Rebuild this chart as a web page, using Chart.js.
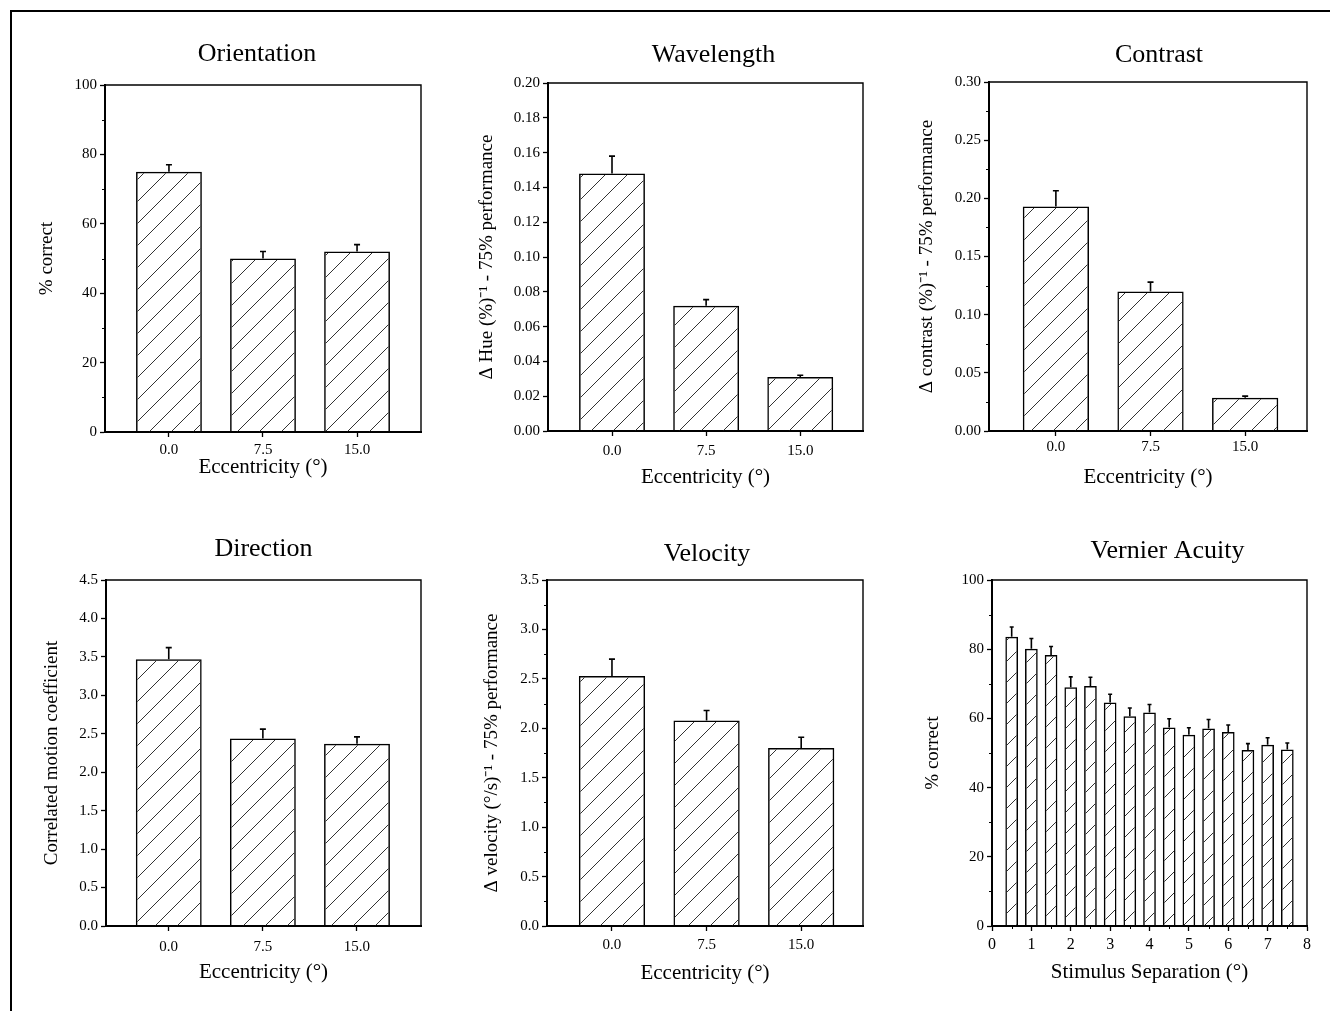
<!DOCTYPE html>
<html>
<head>
<meta charset="utf-8">
<title>Performance vs eccentricity</title>
<script src="https://cdn.jsdelivr.net/npm/chart.js@4.4.1/dist/chart.umd.min.js"></script>
<style>
  html, body { margin: 0; padding: 0; background: #fff; }
  body { width: 1330px; height: 1011px; position: relative; overflow: hidden; }
  #frame { position: absolute; left: 10px; top: 10px; width: 1400px; height: 1100px;
           border-top: 2px solid #000; border-left: 2px solid #000; }
  canvas { position: absolute; }
</style>
</head>
<body>
<div id="frame"></div>
<canvas id="orientationChart"></canvas>
<canvas id="wavelengthChart"></canvas>
<canvas id="contrastChart"></canvas>
<canvas id="directionChart"></canvas>
<canvas id="velocityChart"></canvas>
<canvas id="vernierChart"></canvas>
<script>
// --- data ---
const eccentricities = [0, 7.5, 15];
const eccentricityTicks = [0, 7.5, 15];

const orientationValues = [75, 50, 52];
const orientationErrors = [2, 2, 2];
const orientationTicks = [0, 20, 40, 60, 80, 100];

const wavelengthValues = [0.148, 0.072, 0.031];
const wavelengthErrors = [0.010, 0.0035, 0.001];
const wavelengthTicks = [0, 0.02, 0.04, 0.06, 0.08, 0.10, 0.12, 0.14, 0.16, 0.18, 0.20];

const contrastValues = [0.193, 0.120, 0.0285];
const contrastErrors = [0.0135, 0.008, 0.0015];
const contrastTicks = [0, 0.05, 0.10, 0.15, 0.20, 0.25, 0.30];

const directionValues = [3.47, 2.44, 2.37];
const directionErrors = [0.15, 0.12, 0.09];
const directionTicks = [0, 0.5, 1.0, 1.5, 2.0, 2.5, 3.0, 3.5, 4.0, 4.5];

const velocityValues = [2.53, 2.08, 1.80];
const velocityErrors = [0.17, 0.10, 0.11];
const velocityTicks = [0, 0.5, 1.0, 1.5, 2.0, 2.5, 3.0, 3.5];

const separations = [0.5, 1, 1.5, 2, 2.5, 3, 3.5, 4, 4.5, 5, 5.5, 6, 6.5, 7, 7.5];
const vernierValues = [83.6, 80.1, 78.3, 69.0, 69.4, 64.6, 60.6, 61.7, 57.4, 55.3, 57.1, 56.1, 50.9, 52.4, 51.0];
const vernierErrors = [2.8, 3.0, 2.5, 3.0, 2.5, 2.4, 2.4, 2.3, 2.5, 2.0, 2.6, 2.0, 1.8, 2.0, 1.9];
const vernierTicks = [0, 20, 40, 60, 80, 100];
const separationTicks = [0, 1, 2, 3, 4, 5, 6, 7, 8];

// --- look ---
const FONT = "'Liberation Serif', 'Times New Roman', serif";
const TITLE_SIZE = 26;
const TICK_SIZE = 15;
const Y_TITLE_SIZE = 19;
const X_TITLE_SIZE = 21;

Chart.defaults.font.family = FONT;
Chart.defaults.color = "#000";

function hatch(size) {
    const c = document.createElement("canvas");
    c.width = c.height = size;
    const g = c.getContext("2d");
    g.strokeStyle = "#333";
    g.lineWidth = 1;
    g.beginPath();
    g.moveTo(0, size); g.lineTo(size, 0);
    g.moveTo(-size / 2, size / 2); g.lineTo(size / 2, -size / 2);
    g.moveTo(size / 2, size * 1.5); g.lineTo(size * 1.5, size / 2);
    g.stroke();
    return g.createPattern(c, "repeat");
}

// upper error bars only, like the original
const errorBars = {
    id: "errorBars",
    afterDatasetsDraw(chart, args, opts) {
        const ctx = chart.ctx;
        const yScale = chart.scales.y;
        chart.data.datasets.forEach((ds, i) => {
            const meta = chart.getDatasetMeta(i);
            meta.data.forEach((bar, j) => {
                const v = ds.data[j].y;
                const top = yScale.getPixelForValue(v + ds.errors[j]);
                ctx.save();
                ctx.strokeStyle = "#000";
                ctx.lineWidth = 1.6;
                ctx.beginPath();
                ctx.moveTo(bar.x, bar.y);
                ctx.lineTo(bar.x, top);
                ctx.moveTo(bar.x - opts.cap, top);
                ctx.lineTo(bar.x + opts.cap, top);
                ctx.stroke();
                ctx.restore();
            });
        });
    }
};

// the titles in the figure are not exactly centred over the plots
const titleShift = {
    id: "titleShift",
    afterLayout(chart, args, opts) {
        const t = chart.titleBlock;
        if (t && opts.dx) {
            t.left += opts.dx;
            t.right += opts.dx;
        }
    }
};

// box round the plot + small minor ticks
const frameAndMinor = {
    id: "frameAndMinor",
    afterDraw(chart, args, opts) {
        const ctx = chart.ctx;
        const a = chart.chartArea;
        ctx.save();
        ctx.strokeStyle = "#000";
        ctx.lineWidth = 1.4;
        ctx.beginPath();
        ctx.moveTo(a.left, a.top);
        ctx.lineTo(a.right, a.top);
        ctx.lineTo(a.right, a.bottom);
        ctx.stroke();
        ctx.lineWidth = 1;
        ctx.beginPath();
        if (opts.step) {
            const y = chart.scales.y;
            for (let v = opts.step; v < y.max; v += opts.step * 2) {
                const py = Math.round(y.getPixelForValue(v)) + 0.5;
                ctx.moveTo(a.left - 3, py);
                ctx.lineTo(a.left, py);
            }
        }
        if (opts.xStep) {
            const x = chart.scales.x;
            for (let v = x.min + opts.xStep; v < x.max; v += opts.xStep * 2) {
                const px = Math.round(x.getPixelForValue(v)) + 0.5;
                ctx.moveTo(px, a.bottom);
                ctx.lineTo(px, a.bottom + 3);
            }
        }
        ctx.stroke();
        ctx.restore();
    }
};

function makeChart(id, p) {
    const [pl, pt, pr, pb] = p.plot;
    const left = Math.round(p.yTitleX - Y_TITLE_SIZE * 1.2 / 2);
    const top = Math.round(p.titleY - TITLE_SIZE * 1.2 / 2);
    const bottom = Math.round(p.xTitleY + X_TITLE_SIZE * 1.2 / 2);
    const right = pr + 24;

    const canvas = document.getElementById(id);
    canvas.width = right - left;
    canvas.height = bottom - top;
    canvas.style.left = left + "px";
    canvas.style.top = top + "px";

    const xTickSize = p.xTickSize || TICK_SIZE;
    const tickPad = p.xLabelY - pb - 5 - xTickSize * 1.2 / 2;

    new Chart(canvas.getContext("2d"), {
        type: "bar",
        data: {
            datasets: [{
                data: p.x.map((x, i) => ({ x: x, y: p.values[i] })),
                errors: p.errors,
                backgroundColor: hatch(p.hatch),
                borderColor: "#000",
                borderWidth: 1.5,
                borderSkipped: "bottom",
                barPercentage: p.barPct,
                categoryPercentage: 1
            }]
        },
        options: {
            responsive: false,
            animation: false,
            layout: { padding: { left: 0, top: 0, right: 24, bottom: 0 } },
            plugins: {
                legend: { display: false },
                tooltip: { enabled: false },
                title: {
                    display: true,
                    text: p.title,
                    fullSize: false,
                    font: { size: TITLE_SIZE, family: FONT, weight: "normal" },
                    color: "#000",
                    padding: { top: 0, bottom: pt - top - TITLE_SIZE * 1.2 }
                },
                titleShift: { dx: p.titleDx },
                errorBars: { cap: p.cap },
                frameAndMinor: { step: p.minor, xStep: p.xMinor }
            },
            scales: {
                x: {
                    type: "linear",
                    min: p.xMin,
                    max: p.xMax,
                    offset: false,
                    afterBuildTicks: s => { s.ticks = p.xTicks.map(v => ({ value: v })); },
                    afterFit: s => { s.height = bottom - pb; },
                    grid: { drawOnChartArea: false, tickLength: 5, tickColor: "#000", tickWidth: 1.3, offset: false },
                    border: { display: true, color: "#000", width: 2 },
                    ticks: {
                        padding: tickPad,
                        maxRotation: 0,
                        autoSkip: false,
                        font: { size: xTickSize },
                        callback: v => p.xFmt(v)
                    },
                    title: {
                        display: true,
                        text: p.xTitle,
                        font: { size: X_TITLE_SIZE },
                        padding: 0
                    }
                },
                y: {
                    min: p.yTicks[0],
                    max: p.yTicks[p.yTicks.length - 1],
                    afterBuildTicks: s => { s.ticks = p.yTicks.map(v => ({ value: v })); },
                    afterFit: s => { s.width = pl - left; },
                    grid: { drawOnChartArea: false, tickLength: 5, tickColor: "#000", tickWidth: 1.3 },
                    border: { display: true, color: "#000", width: 2 },
                    ticks: {
                        padding: 3,
                        autoSkip: false,
                        font: { size: TICK_SIZE },
                        callback: v => p.yFmt(v)
                    },
                    title: {
                        display: true,
                        text: p.yTitle,
                        font: { size: Y_TITLE_SIZE },
                        padding: 0
                    }
                }
            }
        },
        plugins: [titleShift, errorBars, frameAndMinor]
    });
}

const ecc = v => v.toFixed(1);
const eccTitle = "Eccentricity (\u00B0)";

makeChart("orientationChart", {
    title: "Orientation", titleDx: -6, plot: [105, 85, 421, 432], titleY: 55, yTitleX: 47, xLabelY: 450, xTitleY: 467,
    x: eccentricities, values: orientationValues, errors: orientationErrors,
    xTicks: eccentricityTicks, xMin: -5.1, xMax: 20.1, xFmt: ecc, xTitle: eccTitle,
    yTicks: orientationTicks, yFmt: v => String(v), yTitle: "% correct", minor: 10,
    barPct: 0.70, hatch: 22, cap: 3
});

makeChart("wavelengthChart", {
    title: "Wavelength", titleDx: 8, plot: [548, 83, 863, 431], titleY: 56, yTitleX: 487, xLabelY: 451, xTitleY: 477,
    x: eccentricities, values: wavelengthValues, errors: wavelengthErrors,
    xTicks: eccentricityTicks, xMin: -5.1, xMax: 20.0, xFmt: ecc, xTitle: eccTitle,
    yTicks: wavelengthTicks, yFmt: v => v.toFixed(2), yTitle: "\u0394 Hue (%)\u207B\u00B9 - 75% performance", minor: 0,
    barPct: 0.70, hatch: 22, cap: 3
});

makeChart("contrastChart", {
    title: "Contrast", titleDx: 11, plot: [989, 82, 1307, 431], titleY: 56, yTitleX: 927, xLabelY: 447, xTitleY: 477,
    x: eccentricities, values: contrastValues, errors: contrastErrors,
    xTicks: eccentricityTicks, xMin: -5.3, xMax: 19.9, xFmt: ecc, xTitle: eccTitle,
    yTicks: contrastTicks, yFmt: v => v.toFixed(2), yTitle: "\u0394 contrast (%)\u207B\u00B9 - 75% performance", minor: 0.025,
    barPct: 0.70, hatch: 22, cap: 3
});

makeChart("directionChart", {
    title: "Direction", titleDx: 0, plot: [106, 580, 421, 926], titleY: 550, yTitleX: 52, xLabelY: 947, xTitleY: 972,
    x: eccentricities, values: directionValues, errors: directionErrors,
    xTicks: eccentricityTicks, xMin: -5.0, xMax: 20.1, xFmt: ecc, xTitle: eccTitle,
    yTicks: directionTicks, yFmt: v => v.toFixed(1), yTitle: "Correlated motion coefficient", minor: 0,
    barPct: 0.70, hatch: 22, cap: 3
});

makeChart("velocityChart", {
    title: "Velocity", titleDx: 2, plot: [547, 580, 863, 926], titleY: 555, yTitleX: 492, xLabelY: 945, xTitleY: 973,
    x: eccentricities, values: velocityValues, errors: velocityErrors,
    xTicks: eccentricityTicks, xMin: -5.15, xMax: 19.9, xFmt: ecc, xTitle: eccTitle,
    yTicks: velocityTicks, yFmt: v => v.toFixed(1), yTitle: "\u0394 velocity (\u00B0/s)\u207B\u00B9 - 75% performance", minor: 0.25,
    barPct: 0.70, hatch: 22, cap: 3
});

makeChart("vernierChart", {
    title: "Vernier Acuity", titleDx: 18, plot: [992, 580, 1307, 926], titleY: 552, yTitleX: 933, xLabelY: 945, xTitleY: 972,
    x: separations, values: vernierValues, errors: vernierErrors,
    xTicks: separationTicks, xMin: 0, xMax: 8, xFmt: v => String(v), xTitle: "Stimulus Separation (\u00B0)",
    xTickSize: 16, xMinor: 0.5,
    yTicks: vernierTicks, yFmt: v => String(v), yTitle: "% correct", minor: 10,
    barPct: 0.645, hatch: 21, cap: 2
});
</script>
</body>
</html>
